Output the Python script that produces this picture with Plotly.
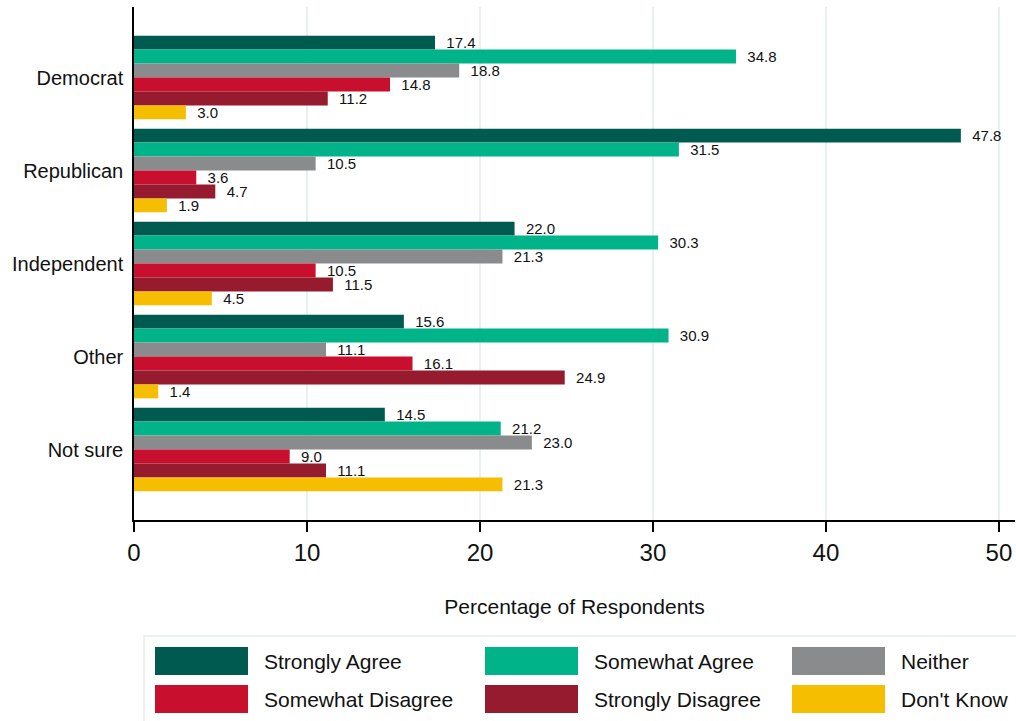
import plotly.graph_objects as go

# data
parties = ["Democrat", "Republican", "Independent", "Other", "Not sure"]
responses = ["Strongly Agree", "Somewhat Agree", "Neither",
             "Somewhat Disagree", "Strongly Disagree", "Don't Know"]
colors = ["#005a4f", "#00b388", "#898b8d", "#c8102e", "#971b2f", "#f5be00"]

strongly_agree = [17.4, 47.8, 22.0, 15.6, 14.5]
somewhat_agree = [34.8, 31.5, 30.3, 30.9, 21.2]
neither = [18.8, 10.5, 21.3, 11.1, 23.0]
somewhat_disagree = [14.8, 3.6, 10.5, 16.1, 9.0]
strongly_disagree = [11.2, 4.7, 11.5, 24.9, 11.1]
dont_know = [3.0, 1.9, 4.5, 1.4, 21.3]

values = [strongly_agree, somewhat_agree, neither,
          somewhat_disagree, strongly_disagree, dont_know]

FONT = "Arial, Liberation Sans, sans-serif"
W, H = 1016, 721
ML, MR, MT, MB = 134, 1, 7, 201
PW, PH = W - ML - MR, H - MT - MB


def px_x(px):
    return (px - ML) / PW


def px_y(py):
    return (H - MB - py) / PH


fig = go.Figure()
for name, vals, col in zip(responses, values, colors):
    fig.add_trace(go.Bar(
        y=parties, x=vals, name=name, orientation="h",
        marker=dict(color=col, line=dict(width=0)),
        text=vals, texttemplate="  %{x:.1f}", textposition="outside",
        textfont=dict(size=15, color="#111111", family=FONT),
        constraintext="none", cliponaxis=False, showlegend=False,
    ))

# custom legend (big swatches, boxed)
shapes = [dict(type="rect", xref="paper", yref="paper",
               x0=px_x(144), x1=px_x(1030), y0=px_y(636), y1=px_y(760),
               line=dict(color="#e3ebeb", width=1.5), fillcolor="rgba(0,0,0,0)")]
annotations = []
col_x = [155, 485, 792]
row_y = [647, 685]
for i, (name, col) in enumerate(zip(responses, colors)):
    cx = col_x[i % 3]
    ry = row_y[i // 3]
    shapes.append(dict(type="rect", xref="paper", yref="paper",
                       x0=px_x(cx), x1=px_x(cx + 93), y0=px_y(ry), y1=px_y(ry + 28),
                       line=dict(width=0), fillcolor=col))
    annotations.append(dict(xref="paper", yref="paper", x=px_x(cx + 107),
                            y=px_y(ry + 14), text=name, showarrow=False,
                            xanchor="left", yanchor="middle",
                            font=dict(size=21, color="#111111", family=FONT)))

fig.update_layout(
    width=W, height=H,
    margin=dict(l=ML, r=MR, t=MT, b=MB, autoexpand=False),
    paper_bgcolor="white", plot_bgcolor="white",
    barmode="group", bargap=0.1, bargroupgap=0,
    font=dict(family=FONT, color="#111111"),
    shapes=shapes, annotations=annotations,
    xaxis=dict(
        range=[0, 50.93], tickvals=[0, 10, 20, 30, 40, 50],
        showgrid=True, gridcolor="#e8f0f0", gridwidth=2,
        showline=True, linecolor="black", linewidth=2,
        ticks="outside", ticklen=10, tickwidth=1.5, tickcolor="black",
        tickfont=dict(size=24, family=FONT), zeroline=False,
        title=dict(text="Percentage of Respondents", standoff=35,
                   font=dict(size=21, family=FONT)),
    ),
    yaxis=dict(
        range=[4.758, -0.758], showgrid=False,
        showline=True, linecolor="black", linewidth=1.5,
        ticks="", tickfont=dict(size=20, family=FONT), ticklabelstandoff=5,
    ),
)

# drop the browser's default page margin so the figure sits at the top-left corner
fig.write_html("out.html", config={"displayModeBar": False},
               post_script="document.body.style.margin='0';")
